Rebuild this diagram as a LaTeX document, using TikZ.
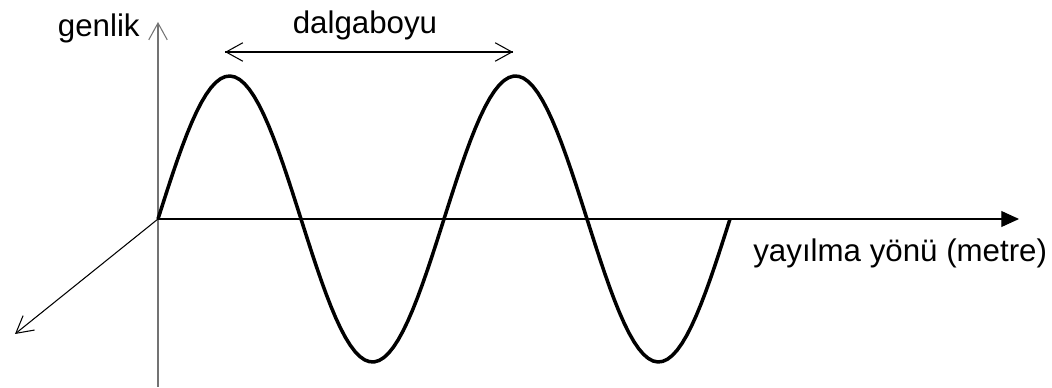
\documentclass[tikz,border=0pt]{standalone}
\usepackage{fontspec}
\setmainfont{Liberation Sans}
\usetikzlibrary{arrows.meta}

\tikzset{
  axis/.style={line width=0.6pt, black},
  wave/.style={line width=2pt, black, line join=round},
  barb/.style={-{Straight Barb[length=9.5pt, width=10.5pt, line width=0.6pt]}},
  label/.style={font=\fontsize{17.8}{21}\selectfont, inner sep=0pt}
}

\begin{document}
\begin{tikzpicture}[x=0.02cm, y=0.02cm]
    \useasboundingbox (-158,-169) rectangle (894,219);

    % axes
    \coordinate (O) at (0,0);
    \coordinate (top) at (0,197);
    \coordinate (bottom) at (0,-168);
    \coordinate (right) at (861,0);
    \coordinate (depth) at (-143,-115);
    \draw[axis, gray!90!black, barb] (bottom) -- (top);
    \draw[axis, -{Triangle[length=10pt, width=9pt]}] (O) -- (right);
    \draw[axis, barb] (O) -- (depth);

    % wave
    \draw[wave] plot[domain=0:572, samples=120] (\x, {143*sin(\x/286*360)});

    % wavelength
    \coordinate (peakA) at (67,167);
    \coordinate (peakB) at (355,167);
    \draw[axis, barb] (peakA) -- (peakB);
    \draw[axis, barb] (peakB) -- (peakA);

    % labels
    \node[label, anchor=base east] (genlik) at (-18,182) {genlik};
    \node[label, anchor=base] (dalga) at (207,185) {dalgaboyu};
    \node[label, anchor=base west] (yon) at (595,-43) {yayılma yönü (metre)};
\end{tikzpicture}
\end{document}
